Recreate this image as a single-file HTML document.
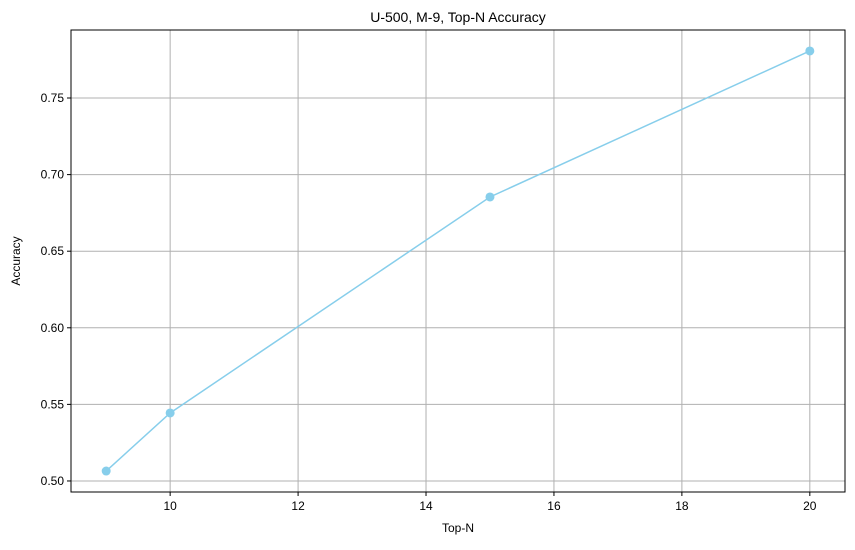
<!DOCTYPE html>
<html><head><meta charset="utf-8"><style>
body{margin:0;background:#fff;font-family:"Liberation Sans","DejaVu Sans",sans-serif}
</style></head><body>
<svg width="855" height="545" xmlns="http://www.w3.org/2000/svg">
<g id="g"></g>
</svg>
<script>
const xValues=[9,10,15,20];
const yValues=[0.5065,0.5444,0.6854,0.7807];
const xTicks=[10,12,14,16,18,20];
const yTicks=[0.50,0.55,0.60,0.65,0.70,0.75];
const L=71,R=845,T=30,B=492;
const xmin=8.45,xmax=20.55,ymin=0.4928,ymax=0.7944;
const sx=v=>L+(v-xmin)/(xmax-xmin)*(R-L);
const sy=v=>B-(v-ymin)/(ymax-ymin)*(B-T);
const g=document.getElementById('g');
const NS='http://www.w3.org/2000/svg';
function mk(t,a,txt){const e=document.createElementNS(NS,t);for(const k in a)e.setAttribute(k,a[k]);if(txt!==undefined)e.textContent=txt;g.appendChild(e);return e;}
xTicks.forEach(v=>{const x=sx(v);
let e=mk('line',{x1:x,x2:x,y1:T,y2:B,stroke:'#b0b0b0','stroke-width':1});


e=mk('line',{x1:x,x2:x,y1:B,y2:B+4,stroke:'#000'});


e=mk('text',{x:x,y:B+18,'text-anchor':'middle','font-size':12},String(v));


});
yTicks.forEach(v=>{const y=sy(v);
let e=mk('line',{x1:L,x2:R,y1:y,y2:y,stroke:'#b0b0b0','stroke-width':1});


e=mk('line',{x1:L-4,x2:L,y1:y,y2:y,stroke:'#000'});


e=mk('text',{x:L-7,y:y+4,'text-anchor':'end','font-size':12},v.toFixed(2));


});
let p=mk('polyline',{points:xValues.map((x,i)=>sx(x)+','+sy(yValues[i])).join(' '),fill:'none',stroke:'#87ceeb','stroke-width':1.5});


xValues.forEach((x,i)=>{const c=mk('circle',{cx:sx(x),cy:sy(yValues[i]),r:4.5,fill:'#87ceeb'});


});
let f=mk('rect',{x:L,y:T,width:R-L,height:B-T,fill:'none',stroke:'#000','stroke-width':1});


let t=mk('text',{x:(L+R)/2,y:22,'text-anchor':'middle','font-size':14},'U-500, M-9, Top-N Accuracy');


t=mk('text',{x:(L+R)/2,y:532,'text-anchor':'middle','font-size':12},'Top-N');


t=mk('text',{x:20,y:(T+B)/2,'text-anchor':'middle','font-size':12,transform:'rotate(-90 20 '+(T+B)/2+')'},'Accuracy');


</script>
</body></html>
